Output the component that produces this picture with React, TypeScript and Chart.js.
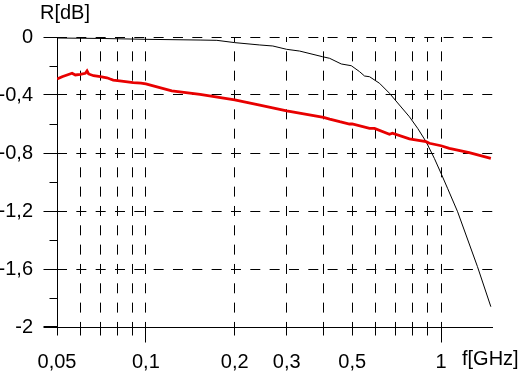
import React, { useEffect, useRef } from 'react';
import { Chart, registerables } from 'chart.js';

Chart.register(...registerables);

const FONT_FAMILY = '"Liberation Sans", Arial, sans-serif';
const FONT_SIZE = 20;

// Frequency axis (GHz, log scale)
const xMin = 0.05;
const xMax = 1.5;
const xTickValues = [0.05, 0.06, 0.07, 0.08, 0.09, 0.1, 0.2, 0.3, 0.4, 0.5, 0.6, 0.7, 0.8, 0.9, 1];
const xLabeledValues = [0.05, 0.1, 0.2, 0.3, 0.5, 1];
const xLabelTexts = ['0,05', '0,1', '0,2', '0,3', '0,5', '1'];
const xLongTickValues = [0.1, 1];

// R axis (dB)
const yMin = -2;
const yMax = 0;
const yStep = 0.2;

// Black curve
const blackFreq = [0.0502, 0.0701, 0.1, 0.1526, 0.174, 0.2003, 0.2432, 0.2692, 0.3, 0.332, 0.397, 0.4195, 0.4593, 0.4966, 0.5297, 0.5506, 0.5726, 0.6188, 0.6689, 0.7228, 0.7815, 0.8335, 0.8898, 0.9493, 1.0, 1.052, 1.138, 1.329, 1.475];
const blackR = [-0.007, -0.01, -0.016, -0.021, -0.023, -0.039, -0.055, -0.062, -0.085, -0.097, -0.136, -0.147, -0.186, -0.198, -0.239, -0.269, -0.274, -0.319, -0.388, -0.469, -0.55, -0.63, -0.722, -0.837, -0.94, -1.043, -1.205, -1.584, -1.86];

// Red curve
const redFreq = [0.05004, 0.05202, 0.05408, 0.05623, 0.05769, 0.05998, 0.06236, 0.0632, 0.06399, 0.06653, 0.0701, 0.0738, 0.07573, 0.0775, 0.0815, 0.0906, 0.0963, 0.1, 0.1224, 0.1526, 0.2, 0.2432, 0.3, 0.4, 0.4195, 0.4535, 0.4896, 0.5, 0.5726, 0.5953, 0.6689, 0.6846, 0.7815, 0.8898, 0.9131, 1.0, 1.067, 1.246, 1.475];
const redR = [-0.29, -0.274, -0.262, -0.25, -0.262, -0.257, -0.25, -0.234, -0.255, -0.267, -0.274, -0.281, -0.29, -0.297, -0.302, -0.315, -0.318, -0.324, -0.372, -0.395, -0.434, -0.469, -0.51, -0.554, -0.566, -0.584, -0.6, -0.6, -0.63, -0.63, -0.671, -0.664, -0.703, -0.722, -0.733, -0.75, -0.768, -0.798, -0.837];

const yAxisTitle = 'R[dB]';
const xAxisTitle = 'f[GHz]';

const isMajorY = (v: number) => Math.round(Math.abs(v) * 10) % 4 === 0;
const fmtY = (v: number) => {
  const r = Math.round(v * 10) / 10;
  if (Number.isInteger(r)) return String(r);
  return r.toFixed(1).replace('.', ',');
};
const near = (a: number, b: number) => Math.abs(a - b) < 1e-9;

const align = (p: number) => Math.round(p - 0.5) + 0.5;

const axesPlugin = {
  id: 'customAxes',
  beforeDatasetsDraw(chart: any) {
    const { ctx, chartArea, scales } = chart;
    const { right, top } = chartArea;
    const xs = scales.x;
    const ys = scales.y;
    ctx.save();
    ctx.setLineDash([]);
    ctx.strokeStyle = '#000';
    ctx.lineWidth = 1;
    const ax = align(xs.getPixelForValue(xMin));
    const ay = align(ys.getPixelForValue(yMin));
    ctx.beginPath();
    // vertical axis
    ctx.moveTo(ax, top);
    ctx.lineTo(ax, ay + 8);
    // horizontal axis
    ctx.moveTo(ax - 14, ay);
    ctx.lineTo(right, ay);
    // y ticks
    for (let v = yMax; v >= yMin - 1e-9; v -= yStep) {
      const py = align(ys.getPixelForValue(v));
      const len = isMajorY(v) ? 14 : 8;
      ctx.moveTo(ax - len, py);
      ctx.lineTo(ax, py);
    }
    // x ticks
    xTickValues.forEach((v) => {
      if (near(v, xMin)) return;
      const px = align(xs.getPixelForValue(v));
      const len = xLongTickValues.some((t) => near(t, v)) ? 15 : 8;
      ctx.moveTo(px, ay);
      ctx.lineTo(px, ay + len);
    });
    ctx.stroke();
    ctx.restore();
  },
  afterDraw(chart: any) {
    const { ctx } = chart;
    ctx.save();
    ctx.fillStyle = '#000';
    ctx.font = `${FONT_SIZE}px ${FONT_FAMILY}`;
    ctx.textAlign = 'left';
    ctx.textBaseline = 'alphabetic';
    ctx.fillText(yAxisTitle, 40, 19);
    ctx.fillText(xAxisTitle, 462, 365);
    ctx.restore();
  },
};

export default function App() {
  const canvasRef = useRef<HTMLCanvasElement | null>(null);

  useEffect(() => {
    const canvas = canvasRef.current;
    if (!canvas) return;
    const redData = redFreq.map((f, i) => ({ x: f, y: redR[i] }));
    const blackData = blackFreq.map((f, i) => ({ x: f, y: blackR[i] }));
    const chart = new Chart(canvas, {
      type: 'line',
      data: {
        datasets: [
          {
            label: 'red',
            data: redData,
            borderColor: 'rgb(232,0,0)',
            borderWidth: 2.8,
            pointRadius: 0,
            tension: 0,
            fill: false,
          },
          {
            label: 'black',
            data: blackData,
            borderColor: '#000',
            borderWidth: 1,
            pointRadius: 0,
            tension: 0,
            fill: false,
          },
        ],
      },
      options: {
        responsive: false,
        maintainAspectRatio: false,
        animation: false,
        devicePixelRatio: 1,
        layout: { padding: { top: 37, right: 29, left: 0, bottom: 0 } },
        plugins: { legend: { display: false }, tooltip: { enabled: false } },
        scales: {
          x: {
            type: 'logarithmic',
            min: xMin,
            max: xMax,
            afterBuildTicks: (scale: any) => {
              scale.ticks = xTickValues.map((v) => ({ value: v }));
            },
            afterFit: (scale: any) => {
              scale.height = 46;
            },
            grid: {
              drawTicks: false,
              color: (c: any) => (c.tick && near(c.tick.value, xMin) ? 'rgba(0,0,0,0)' : '#000'),
              lineWidth: 1,
            },
            border: { display: false, dash: [10, 9.33], dashOffset: 5 },
            ticks: {
              autoSkip: false,
              maxRotation: 0,
              minRotation: 0,
              padding: 23,
              color: '#000',
              font: { family: FONT_FAMILY, size: FONT_SIZE },
              callback: (value: any) => {
                const idx = xLabeledValues.findIndex((t) => near(t, Number(value)));
                return idx >= 0 ? xLabelTexts[idx] : '';
              },
            },
          },
          y: {
            type: 'linear',
            min: yMin,
            max: yMax,
            afterFit: (scale: any) => {
              scale.width = 57;
            },
            grid: {
              drawTicks: false,
              color: (c: any) => {
                const v = c.tick ? c.tick.value : 0;
                return isMajorY(v) && !near(v, yMin) ? '#000' : 'rgba(0,0,0,0)';
              },
              lineWidth: 1,
            },
            border: { display: false, dash: [10, 9.33], dashOffset: 0 },
            ticks: {
              stepSize: yStep,
              autoSkip: false,
              padding: 24,
              color: '#000',
              font: { family: FONT_FAMILY, size: FONT_SIZE },
              callback: (value: any) => (isMajorY(Number(value)) ? fmtY(Number(value)) : ''),
            },
          },
        },
      },
      plugins: [axesPlugin],
    } as any);
    return () => chart.destroy();
  }, []);

  return (
    <div style={{ position: 'absolute', left: 0, top: 0, width: 522, height: 373, background: '#fff' }}>
      <canvas ref={canvasRef} width={522} height={373} />
    </div>
  );
}
